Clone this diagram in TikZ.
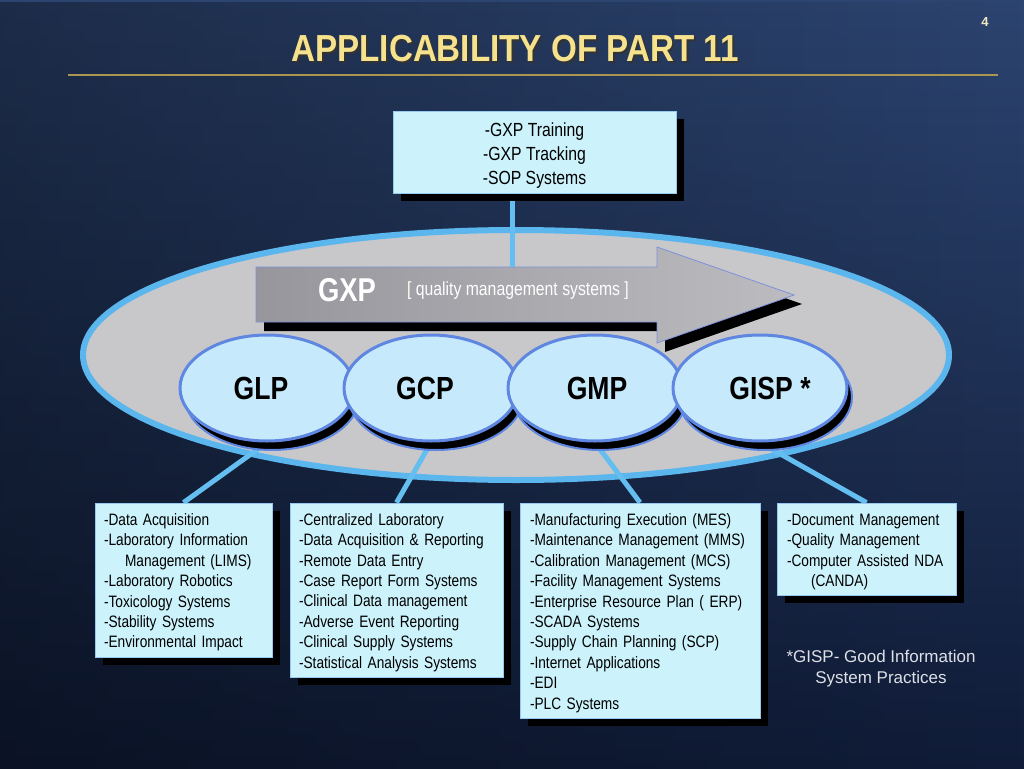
\documentclass[tikz,border=0pt]{standalone}
\usepackage{fontspec}
\setmainfont{Liberation Sans}
\newfontfamily\nar[FakeStretch=0.83]{Liberation Sans}
\newfontfamily\titlef[FakeStretch=0.88]{Liberation Sans}
\usetikzlibrary{shapes.geometric,shadows,fadings}
\definecolor{bgtop}{RGB}{44,68,112}
\definecolor{bgbot}{RGB}{16,28,56}
\definecolor{titlecol}{RGB}{246,226,140}
\definecolor{rulecol}{RGB}{170,150,80}
\definecolor{pgcol}{RGB}{240,232,190}
\definecolor{ovalfill}{RGB}{200,200,202}
\definecolor{ovalline}{RGB}{92,182,238}
\definecolor{connc}{RGB}{100,190,240}
\definecolor{boxfill}{RGB}{204,242,252}
\definecolor{boxline}{RGB}{150,200,240}
\definecolor{circfill}{RGB}{198,234,252}
\definecolor{circline}{RGB}{95,135,225}
\definecolor{arrL}{RGB}{150,150,156}
\definecolor{arrR}{RGB}{188,188,192}
\definecolor{arrline}{RGB}{125,145,220}
\definecolor{footcol}{RGB}{222,224,232}
\newcommand{\dn}[1]{\rule{0pt}{#1}}
\pgfdeclarelayer{back}
\pgfdeclarelayer{mid}
\pgfsetlayers{back,mid,main}
\tikzset{
  conn/.style={draw=connc, line width=5pt},
  listbox/.style={rectangle, fill=boxfill, draw=boxline, line width=0.8pt,
    inner xsep=9pt, inner ysep=0pt, align=left,
    font=\nar\fontsize{16.5}{20.4}\selectfont, text=black,
    drop shadow={shadow xshift=8pt, shadow yshift=-8pt, opacity=1, fill=black, draw=none}},
  circ/.style={ellipse, fill=circfill, draw=circline, line width=3pt, inner sep=0pt,
    minimum width=174pt, minimum height=106pt,
    font=\nar\bfseries\fontsize{32}{36}\selectfont, text=black,
    drop shadow={shadow xshift=5pt, shadow yshift=-9pt, opacity=1, fill=black, draw=circline, line width=2pt}},
  titletext/.style={font=\titlef\bfseries\fontsize{37.7}{40}\selectfont, inner sep=0pt},
}
\begin{document}
\begin{tikzpicture}[x=1pt,y=-1pt]
\useasboundingbox (0,0) rectangle (1024,768);
\begin{pgfonlayer}{back}
  \fill[top color=bgtop, bottom color=bgbot] (0,0) rectangle (1024,768);
  \fill[black, opacity=0.35, path fading=east] (0,0) rectangle (1024,768);
  % big oval
  \node[ellipse, fill=ovalfill, draw=ovalline, line width=6pt, inner sep=0pt,
        minimum width=866pt, minimum height=250pt] (oval) at (516,355) {};
  % arrow shadow and arrow
  \fill[black, shift={(8,9)}] (256,267) -- (657,267) -- (657,247) -- (794,295)
       -- (657,343) -- (657,322) -- (256,322) -- cycle;
  \path[left color=arrL, right color=arrR, draw=arrline, line width=0.8pt]
       (256,267) -- (657,267) -- (657,247) -- (794,295)
       -- (657,343) -- (657,322) -- (256,322) -- cycle;
  \coordinate (arrtop) at (512,267);
\end{pgfonlayer}

% title
\node[titletext, text=black!80] (titleshadow) at (517,51) {APPLICABILITY OF PART 11};
\node[titletext, text=titlecol] (title) at (515,49) {APPLICABILITY OF PART 11};
\draw[rulecol, line width=2pt] (68,75) -- (998,75);
\node[font=\bfseries\fontsize{13}{15}\selectfont, text=pgcol] (pg) at (985,22) {4};

% arrow labels
\node[font=\nar\bfseries\fontsize{33}{36}\selectfont, text=white] (gxp) at (347,290) {GXP};
\node[font=\nar\fontsize{19}{22}\selectfont, text=white] (qms) at (518,291) {[ quality management systems ]};

% top box
\node[listbox, align=center, minimum width=283pt, minimum height=82pt,
      font=\nar\fontsize{19}{24}\selectfont] (top) at (534.5,152)
      {\dn{20pt}-GXP Training\\-GXP Tracking\\-SOP Systems};

% circles
\node[circ] (glp) at (267,388) {\hspace*{-12pt}GLP};
\node[circ] (gcp) at (431,388) {\hspace*{-12pt}GCP};
\node[circ] (gmp) at (595,388) {\hspace*{4pt}GMP};
\node[circ] (gisp) at (760,388) {\hspace*{20pt}GISP *};

% list boxes
\node[listbox, minimum width=177pt, minimum height=154pt, text width=159pt] (b1) at (183.5,580)
  {\dn{17pt}-Data Acquisition\\-Laboratory Information\\\hspace*{21pt}Management (LIMS)\\-Laboratory Robotics\\-Toxicology Systems\\-Stability Systems\\-Environmental Impact};
\node[listbox, minimum width=213pt, minimum height=174pt, text width=195pt] (b2) at (396.5,590)
  {\dn{17pt}-Centralized Laboratory\\-Data Acquisition \& Reporting\\-Remote Data Entry\\-Case Report Form Systems\\-Clinical Data management\\-Adverse Event Reporting\\-Clinical Supply Systems\\-Statistical Analysis Systems};
\node[listbox, minimum width=240pt, minimum height=215pt, text width=220pt, inner xsep=10pt] (b3) at (640,610.5)
  {\dn{17pt}-Manufacturing Execution (MES)\\-Maintenance Management (MMS)\\-Calibration Management (MCS)\\-Facility Management Systems\\-Enterprise Resource Plan ( ERP)\\-SCADA Systems\\-Supply Chain Planning (SCP)\\-Internet Applications\\-EDI\\-PLC Systems};
\node[listbox, minimum width=179pt, minimum height=92pt, text width=159pt, inner xsep=10pt] (b4) at (866.5,549)
  {\dn{17pt}-Document Management\\-Quality Management\\-Computer Assisted NDA\\\hspace*{24pt}(CANDA)};

% connectors
\begin{pgfonlayer}{mid}
  \draw[conn] (top.south -| arrtop) -- (arrtop);
  \draw[conn] (glp.south) -- (b1.north);
  \draw[conn] (gcp.south) -- (b2.north);
  \draw[conn] (gmp.south) -- (b3.north);
  \draw[conn] (gisp.south) -- (b4.north);
\end{pgfonlayer}

% footnote
\node[align=center, font=\fontsize{17}{21}\selectfont, text=footcol] (note) at (881,669)
  {*GISP- Good Information\\System Practices};
\end{tikzpicture}
\end{document}
